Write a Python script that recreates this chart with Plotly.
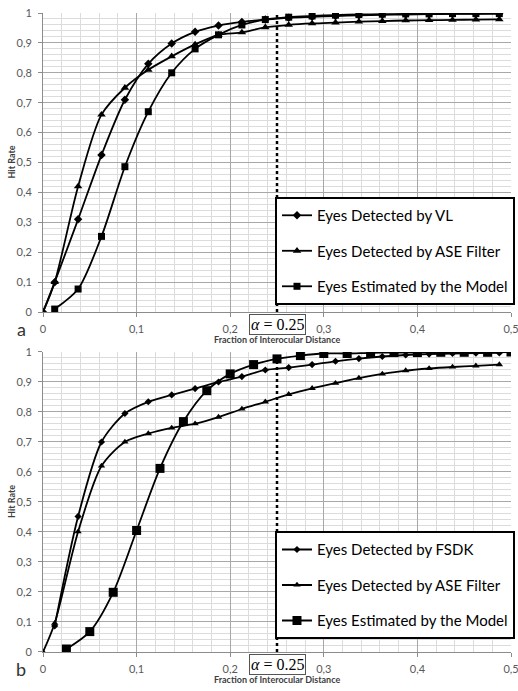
import plotly.graph_objects as go

# ---------------- data ----------------
# panel a
xa = [0, 0.0125, 0.0375, 0.0625, 0.0875, 0.1125, 0.1375, 0.1625, 0.1875, 0.2125, 0.2375,
      0.2625, 0.2875, 0.3125, 0.3375, 0.3625, 0.3875, 0.4125, 0.4375, 0.4625, 0.4875]
a_vl = [0, 0.10, 0.31, 0.525, 0.71, 0.83, 0.898, 0.937, 0.958, 0.970, 0.978,
        0.984, 0.987, 0.990, 0.992, 0.994, 0.995, 0.996, 0.997, 0.997, 0.998]
a_ase = [0, 0.10, 0.42, 0.66, 0.75, 0.81, 0.855, 0.895, 0.927, 0.935, 0.952,
         0.960, 0.965, 0.968, 0.971, 0.973, 0.975, 0.976, 0.977, 0.978, 0.979]
xa_model = xa[1:]
a_model = [0.01, 0.077, 0.253, 0.486, 0.67, 0.80, 0.88, 0.927, 0.96, 0.978,
           0.986, 0.990, 0.993, 0.995, 0.996, 0.997, 0.997, 0.998, 0.998, 0.998]

# panel b
xb_fsdk = xa[1:]
b_fsdk = [0.087, 0.452, 0.70, 0.795, 0.834, 0.857, 0.878, 0.90, 0.918, 0.94,
          0.948, 0.958, 0.969, 0.978, 0.985, 0.99, 0.993, 0.995, 0.996, 0.997]
xb_ase = xa
b_ase = [0, 0.096, 0.401, 0.62, 0.70, 0.728, 0.747, 0.761, 0.783, 0.81, 0.834,
         0.859, 0.879, 0.896, 0.913, 0.927, 0.938, 0.945, 0.95, 0.954, 0.958]
xb_model = [0.025, 0.05, 0.075, 0.1, 0.125, 0.15, 0.175, 0.2, 0.225, 0.25,
            0.275, 0.3, 0.325, 0.35, 0.375, 0.4, 0.425, 0.45, 0.475, 0.5]
b_model = [0.01, 0.068, 0.199, 0.405, 0.612, 0.768, 0.871, 0.927, 0.958, 0.977,
           0.988, 0.995, 0.995, 0.997, 0.998, 0.998, 0.999, 0.999, 0.999, 1.0]

names_a = ["Eyes Detected by VL", "Eyes Detected by ASE Filter", "Eyes Estimated by the Model"]
names_b = ["Eyes Detected by FSDK", "Eyes Detected by ASE Filter", "Eyes Estimated by the Model"]
alpha = 0.25

# ---------------- figure ----------------
FONT = "Lato"
fig = go.Figure()

def add(x, y, name, symbol, size, xref, yref, legend, group):
    fig.add_trace(go.Scatter(
        x=x, y=y, name=name, mode="lines+markers",
        line=dict(color="black", width=1.8, shape="spline", smoothing=0.8),
        marker=dict(symbol=symbol, size=size, color="black"),
        xaxis=xref, yaxis=yref, legend=legend, legendgroup=group))

add(xa, a_vl, names_a[0], "diamond", 6.5, "x", "y", "legend", "a1")
add(xa, a_ase, names_a[1], "triangle-up", 7.5, "x", "y", "legend", "a2")
add(xa_model, a_model, names_a[2], "square", 7, "x", "y", "legend", "a3")

add(xb_fsdk, b_fsdk, names_b[0], "diamond", 5.5, "x2", "y2", "legend2", "b1")
add(xb_ase, b_ase, names_b[1], "triangle-up", 6.5, "x2", "y2", "legend2", "b2")
add(xb_model, b_model, names_b[2], "square", 9, "x2", "y2", "legend2", "b3")

xax = dict(range=[0, 0.5], dtick=0.1, showgrid=True, gridcolor="#a8a8a8", gridwidth=1,
           minor=dict(dtick=0.02, showgrid=True, gridcolor="#dcdcdc", gridwidth=1),
           zeroline=False, showline=True, linecolor="#8c8c8c", linewidth=1,
           ticks="outside", ticklen=4, tickcolor="#8c8c8c", automargin=False,
           ticklabelstandoff=3, ticklabeloverflow="allow",
           tickfont=dict(family=FONT, size=11, color="#595959"), fixedrange=True)
yax = dict(range=[0, 1], dtick=0.1, showgrid=True, gridcolor="#a8a8a8", gridwidth=1,
           minor=dict(dtick=0.02, showgrid=True, gridcolor="#dcdcdc", gridwidth=1),
           zeroline=False, showline=True, linecolor="#8c8c8c", linewidth=1,
           ticks="outside", ticklen=4, tickcolor="#8c8c8c", automargin=False,
           ticklabelstandoff=4, ticklabeloverflow="allow",
           tickfont=dict(family=FONT, size=11, color="#595959"), fixedrange=True)

top_dom = [0.532, 1.0]
bot_dom = [0.0, 0.4695]

leg = dict(xanchor="left", yanchor="top", bordercolor="black", borderwidth=2,
           bgcolor="white", font=dict(family=FONT, size=15, color="black"),
           tracegroupgap=13, itemwidth=30)

fig.update_layout(
    width=518, height=691,
    margin=dict(l=43, r=7, t=13, b=39, autoexpand=False),
    paper_bgcolor="white", plot_bgcolor="white",
    separators=", ",
    xaxis=dict(xax, anchor="y"),
    yaxis=dict(yax, anchor="x", domain=top_dom),
    xaxis2=dict(xax, anchor="y2"),
    yaxis2=dict(yax, anchor="x2", domain=bot_dom),
    legend=dict(leg, x=0.4957, y=0.712),
    legend2=dict(leg, x=0.4957, y=0.189),
    showlegend=True,
)

# alpha dotted lines
for xr, yr in (("x", "y"), ("x2", "y2")):
    fig.add_shape(type="line", xref=xr, yref=yr, x0=alpha, x1=alpha, y0=0, y1=1,
                  line=dict(color="black", width=2.5, dash="dot"))

# alpha boxes, axis titles and panel letters
for dom, letter in ((top_dom, "a"), (bot_dom, "b")):
    fig.add_annotation(x=alpha, xref="x", y=dom[0], yref="paper", yanchor="top", yshift=-2,
                       text="<i>α</i> = 0.25", showarrow=False,
                       font=dict(family="Liberation Serif", size=16, color="black"),
                       bordercolor="#555555", borderwidth=1, borderpad=1, bgcolor="white")
    fig.add_annotation(x=0.5, xref="paper", xanchor="center", y=dom[0], yref="paper",
                       yanchor="top", yshift=-20,
                       text="<b>Fraction of Interocular Distance</b>", showarrow=False,
                       font=dict(family=FONT, size=9, color="#404040"))
    fig.add_annotation(x=0, xref="paper", xanchor="center", xshift=-31,
                       y=(dom[0] + dom[1]) / 2, yref="paper", yanchor="middle",
                       text="<b>Hit Rate</b>", textangle=-90, showarrow=False,
                       font=dict(family=FONT, size=9, color="#404040"))
    fig.add_annotation(x=0, xref="paper", xanchor="center", xshift=-22, y=dom[0],
                       yref="paper", yanchor="top", yshift=-4, text=letter, showarrow=False,
                       font=dict(family=FONT, size=18, color="#333333"))

fig.write_html(
    "out.html",
    config={"displayModeBar": False},
    post_script="document.body.style.margin='0';document.body.style.overflow='hidden';"
                "document.documentElement.style.overflow='hidden';",
)
